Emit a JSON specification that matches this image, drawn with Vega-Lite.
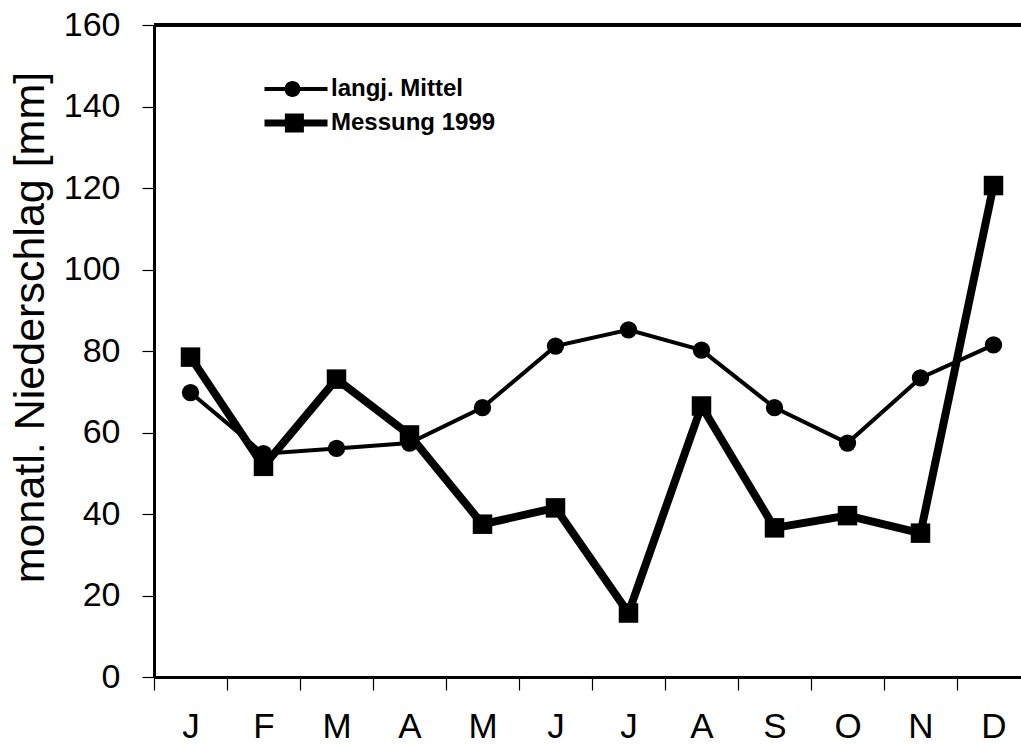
{
  "$schema": "https://vega.github.io/schema/vega-lite/v6.json",
  "width": 867,
  "height": 652,
  "autosize": {"type": "none"},
  "padding": {"left": 154, "top": 25, "right": 0, "bottom": 68},
  "background": "white",
  "config": {
    "font": "Liberation Sans",
    "view": {"stroke": null}
  },
  "data": {
    "values": [
      {"month": "Jan", "series": "langj. Mittel", "value": 69.8},
      {"month": "Feb", "series": "langj. Mittel", "value": 54.8},
      {"month": "Mar", "series": "langj. Mittel", "value": 56.1},
      {"month": "Apr", "series": "langj. Mittel", "value": 57.4},
      {"month": "May", "series": "langj. Mittel", "value": 66.1},
      {"month": "Jun", "series": "langj. Mittel", "value": 81.2},
      {"month": "Jul", "series": "langj. Mittel", "value": 85.2},
      {"month": "Aug", "series": "langj. Mittel", "value": 80.2},
      {"month": "Sep", "series": "langj. Mittel", "value": 66.1},
      {"month": "Oct", "series": "langj. Mittel", "value": 57.4},
      {"month": "Nov", "series": "langj. Mittel", "value": 73.4},
      {"month": "Dec", "series": "langj. Mittel", "value": 81.5},
      {"month": "Jan", "series": "Messung 1999", "value": 78.5},
      {"month": "Feb", "series": "Messung 1999", "value": 51.7},
      {"month": "Mar", "series": "Messung 1999", "value": 73.1},
      {"month": "Apr", "series": "Messung 1999", "value": 59.4},
      {"month": "May", "series": "Messung 1999", "value": 37.5},
      {"month": "Jun", "series": "Messung 1999", "value": 41.5},
      {"month": "Jul", "series": "Messung 1999", "value": 15.7},
      {"month": "Aug", "series": "Messung 1999", "value": 66.5},
      {"month": "Sep", "series": "Messung 1999", "value": 36.6},
      {"month": "Oct", "series": "Messung 1999", "value": 39.6},
      {"month": "Nov", "series": "Messung 1999", "value": 35.3},
      {"month": "Dec", "series": "Messung 1999", "value": 120.6}
    ]
  },
  "layer": [
    {
      "mark": {"type": "rule", "color": "black", "strokeWidth": 3},
      "encoding": {
        "y": {"datum": 160, "type": "quantitative", "scale": {"domain": [0, 160], "nice": false}}
      }
    },
    {
      "mark": {"type": "line", "color": "black", "strokeJoin": "miter"},
      "encoding": {
        "x": {
          "field": "month",
          "type": "nominal",
          "sort": ["Jan","Feb","Mar","Apr","May","Jun","Jul","Aug","Sep","Oct","Nov","Dec"],
          "scale": {"range": [0, 876], "paddingInner": 0, "paddingOuter": 0},
          "axis": {
            "title": null,
            "labelAngle": 0,
            "labelExpr": "substring(datum.label, 0, 1)",
            "labelFont": "Liberation Sans",
            "labelFontSize": 35,
            "labelColor": "black",
            "labelBaseline": "alphabetic",
            "labelPadding": 47,
            "tickBand": "extent",
            "tickSize": 13,
            "tickColor": "black",
            "tickWidth": 1.2,
            "domainColor": "black",
            "domainWidth": 3,
            "grid": false
          }
        },
        "y": {
          "field": "value",
          "type": "quantitative",
          "scale": {"domain": [0, 160], "nice": false},
          "axis": {
            "title": "monatl. Niederschlag [mm]",
            "titleFont": "Liberation Sans",
            "titleFontSize": 43,
            "titleFontWeight": "normal",
            "titleColor": "black",
            "titleAngle": -90,
            "titleAlign": "center",
            "titleBaseline": "alphabetic",
            "titleX": -111,
            "titleY": 302,
            "values": [0, 20, 40, 60, 80, 100, 120, 140, 160],
            "labelFont": "Liberation Sans",
            "labelFontSize": 34,
            "labelColor": "black",
            "labelPadding": 22,
            "tickSize": 12,
            "tickColor": "black",
            "tickWidth": 1.2,
            "domainColor": "black",
            "domainWidth": 3,
            "grid": false
          }
        },
        "detail": {"field": "series", "type": "nominal"},
        "strokeWidth": {
          "field": "series",
          "type": "nominal",
          "scale": {"domain": ["langj. Mittel", "Messung 1999"], "range": [4, 8]},
          "legend": null
        }
      }
    },
    {
      "mark": {"type": "point", "filled": true, "color": "black", "opacity": 1},
      "encoding": {
        "x": {
          "field": "month",
          "type": "nominal",
          "sort": ["Jan","Feb","Mar","Apr","May","Jun","Jul","Aug","Sep","Oct","Nov","Dec"],
          "scale": {"range": [0, 876], "paddingInner": 0, "paddingOuter": 0}
        },
        "y": {"field": "value", "type": "quantitative", "scale": {"domain": [0, 160], "nice": false}},
        "shape": {
          "field": "series",
          "type": "nominal",
          "scale": {"domain": ["langj. Mittel", "Messung 1999"], "range": ["circle", "square"]},
          "legend": null
        },
        "size": {
          "field": "series",
          "type": "nominal",
          "scale": {"domain": ["langj. Mittel", "Messung 1999"], "range": [300, 380]},
          "legend": null
        }
      }
    },
    {
      "transform": [{"filter": "datum.value < 0"}],
      "mark": {"type": "point", "filled": true, "color": "black", "opacity": 1},
      "encoding": {
        "shape": {
          "field": "series",
          "type": "nominal",
          "scale": {
            "domain": ["langj. Mittel", "Messung 1999"],
            "range": [
              "M-3.15,-0.2H3.15V0.2H-3.15Z M0.45,0A0.8,0.8 0 1,1 -1.15,0A0.8,0.8 0 1,1 0.45,0Z",
              "M-3.15,-0.35H3.15V0.35H-3.15Z M-1.11,-0.95H0.79V0.95H-1.11Z"
            ]
          },
          "legend": {
            "title": null,
            "orient": "none",
            "legendX": 130,
            "legendY": 52,
            "padding": 0,
            "symbolSize": 400,
            "symbolFillColor": "black",
            "symbolStrokeWidth": 0,
            "symbolOpacity": 1,
            "rowPadding": 10,
            "labelLimit": 0,
            "labelFont": "Liberation Sans",
            "labelFontSize": 24,
            "labelFontWeight": "bold",
            "labelColor": "black",
            "labelOffset": 23
          }
        }
      }
    }
  ],
  "resolve": {"scale": {"shape": "independent", "size": "independent"}}
}
